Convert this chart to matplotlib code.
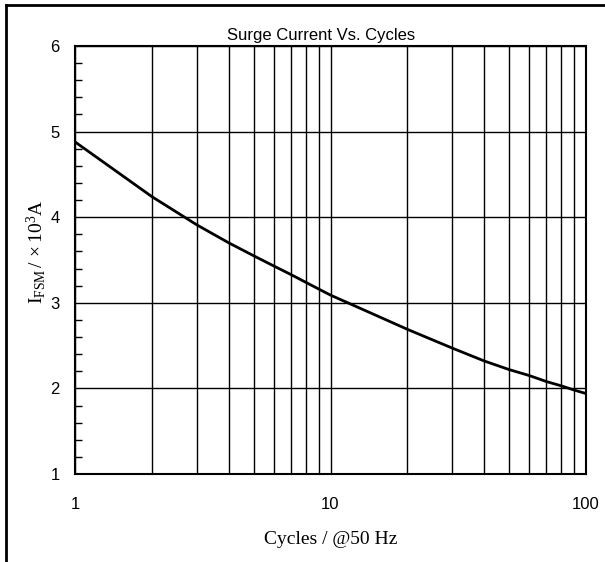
import matplotlib; matplotlib.use("Agg")
import matplotlib.pyplot as plt
from matplotlib.ticker import FixedLocator, NullFormatter, LogLocator
from matplotlib.lines import Line2D

plt.rcParams['mathtext.fontset'] = 'custom'
plt.rcParams['mathtext.rm'] = 'Liberation Serif'
plt.rcParams['mathtext.it'] = 'Liberation Serif'

cycles = [1, 2, 3, 4, 5, 6, 7, 8, 9, 10, 20, 30, 40, 50, 60, 70, 80, 90, 100]
ifsm = [4.88, 4.24, 3.91, 3.70, 3.55, 3.43, 3.33, 3.24, 3.16, 3.09,
        2.69, 2.47, 2.32, 2.22, 2.15, 2.08, 2.03, 1.98, 1.94]
yticks = [1, 2, 3, 4, 5, 6]
xticks = [1, 10, 100]

sans = ['Liberation Sans', 'DejaVu Sans']
serif = ['Liberation Serif', 'DejaVu Serif']

fig = plt.figure(figsize=(6.05, 5.62), dpi=100)
ax = fig.add_axes([75/605, 1-474/562, 511/605, 428/562])
ax.plot(cycles, ifsm, color='black', lw=2, zorder=3)
ax.set_xscale('log')
ax.set_xlim(1, 100); ax.set_ylim(1, 6)

ax.set_xticks(xticks); ax.set_xticklabels([str(t) for t in xticks], family=sans, fontsize=12)
ax.xaxis.set_minor_locator(LogLocator(base=10, subs=range(2, 10)))
ax.xaxis.set_minor_formatter(NullFormatter())
ax.set_yticks(yticks); ax.set_yticklabels([str(t) for t in yticks], family=sans, fontsize=12)
ax.yaxis.set_minor_locator(FixedLocator([1 + 0.2*i for i in range(26) if i % 5]))
ax.tick_params(axis='x', which='both', length=0, pad=16.5)
ax.tick_params(axis='y', which='major', length=0, pad=11)
ax.tick_params(axis='y', which='minor', direction='in', length=5, width=1, left=True, right=False)
ax.grid(True, which='major', color='black', lw=1)
ax.grid(True, which='minor', axis='x', color='black', lw=1)
for s in ax.spines.values():
    s.set_linewidth(1.5)

ax.set_title("Surge Current Vs. Cycles", family=sans, fontsize=12, pad=4.5, x=0.481)
ax.set_xlabel("Cycles / @50 Hz", family=serif, fontsize=14)
ax.set_ylabel(r"$\mathrm{I_{FSM}}\,/\,\times\mathrm{10^{3}A}$", family=serif, fontsize=14)
ax.xaxis.set_label_coords(0.5, -0.133)
ax.yaxis.set_label_coords(-0.053, 0.52)

# outer frame (top and left edges)
fig.add_artist(Line2D([6/605, 6/605], [0, 1-5/562], transform=fig.transFigure, color='black', lw=2))
fig.add_artist(Line2D([6/605, 1], [1-5/562, 1-5/562], transform=fig.transFigure, color='black', lw=2))

fig.savefig("out.png", dpi=100)
